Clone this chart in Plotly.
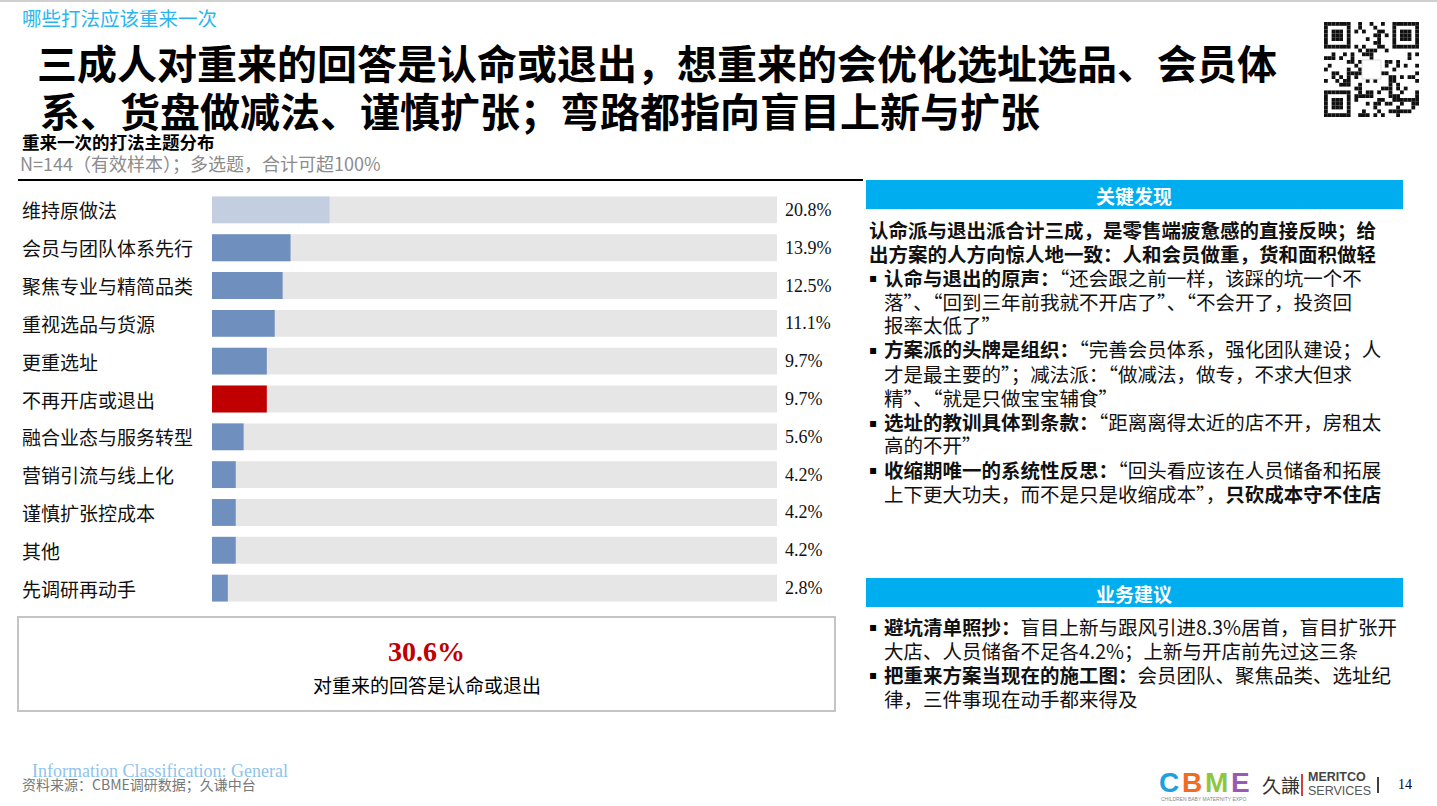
import plotly.graph_objects as go

W, H = 1437, 806
CJK = "Noto Sans CJK SC"
SERIF = "Liberation Serif, Noto Sans CJK SC"

# ---------------- data ----------------
kicker = "哪些打法应该重来一次"
title_lines = ["三成人对重来的回答是认命或退出，想重来的会优化选址选品、会员体",
               "系、货盘做减法、谨慎扩张；弯路都指向盲目上新与扩张"]
chart_title = "重来一次的打法主题分布"
chart_note = "N=144（有效样本）；多选题，合计可超100%"

categories = ["维持原做法", "会员与团队体系先行", "聚焦专业与精简品类", "重视选品与货源",
              "更重选址", "不再开店或退出", "融合业态与服务转型", "营销引流与线上化",
              "谨慎扩张控成本", "其他", "先调研再动手"]
values = [20.8, 13.9, 12.5, 11.1, 9.7, 9.7, 5.6, 4.2, 4.2, 4.2, 2.8]
track_value = 100
baseline_cat = "维持原做法"
highlight_cat = "不再开店或退出"

kpi_value = "30.6%"
kpi_label = "对重来的回答是认命或退出"

findings_header = "关键发现"
findings_lines = [
    ("", "<b>认命派与退出派合计三成，是零售端疲惫感的直接反映；给</b>"),
    ("", "<b>出方案的人方向惊人地一致：人和会员做重，货和面积做轻</b>"),
    ("▪", "<b>认命与退出的原声：</b>“还会跟之前一样，该踩的坑一个不"),
    (" ", "落”、“回到三年前我就不开店了”、“不会开了，投资回"),
    (" ", "报率太低了”"),
    ("▪", "<b>方案派的头牌是组织：</b>“完善会员体系，强化团队建设；人"),
    (" ", "才是最主要的”；减法派：“做减法，做专，不求大但求"),
    (" ", "精”、“就是只做宝宝辅食”"),
    ("▪", "<b>选址的教训具体到条款：</b>“距离离得太近的店不开，房租太"),
    (" ", "高的不开”"),
    ("▪", "<b>收缩期唯一的系统性反思：</b>“回头看应该在人员储备和拓展"),
    (" ", "上下更大功夫，而不是只是收缩成本”，<b>只砍成本守不住店</b>"),
]
advice_header = "业务建议"
advice_lines = [
    ("▪", "<b>避坑清单照抄：</b>盲目上新与跟风引进8.3%居首，盲目扩张开"),
    (" ", "大店、人员储备不足各4.2%；上新与开店前先过这三条"),
    ("▪", "<b>把重来方案当现在的施工图：</b>会员团队、聚焦品类、选址纪"),
    (" ", "律，三件事现在动手都来得及"),
]
footer_class = "Information Classification: General"
footer_source = "资料来源：CBME调研数据；久谦中台"
page_no = "14"

# ---------------- helpers ----------------
def X(px):
    return px / W

def Y(py):
    return 1 - py / H

BASE = "#6F8FBE"
LIGHT = "#C3CEE0"
RED = "#C00000"
TRACK = "#E6E6E6"
BLUE = "#00AEEF"

bar_colors = [LIGHT if c == baseline_cat else (RED if c == highlight_cat else BASE) for c in categories]

fig = go.Figure()
fig.add_trace(go.Bar(x=[track_value] * len(categories), y=categories, orientation="h",
                     marker=dict(color=TRACK, line=dict(width=0)), width=0.71,
                     hoverinfo="skip", showlegend=False))
fig.add_trace(go.Bar(x=values, y=categories, orientation="h",
                     marker=dict(color=bar_colors, line=dict(width=0)), width=0.71,
                     hovertemplate="%{y}: %{x}%<extra></extra>", showlegend=False))

ann = []
shapes = []

# bar labels and values
for c, v in zip(categories, values):
    ann.append(dict(x=X(20), y=c, xref="paper", yref="y", text=c, showarrow=False,
                    xanchor="left", yanchor="middle", font=dict(family=CJK, size=19, color="#111111")))
    ann.append(dict(x=X(783), y=c, xref="paper", yref="y", text=f"{v:.1f}%", showarrow=False,
                    xanchor="left", yanchor="middle", font=dict(family=SERIF, size=18, color="#111111")))

# top line
shapes.append(dict(type="line", xref="paper", yref="paper", x0=0, x1=1, y0=Y(1), y1=Y(1),
                   line=dict(color="#D0D0D0", width=2)))

# kicker & title
ann.append(dict(x=X(20), y=Y(17), xref="paper", yref="paper", text=kicker, showarrow=False,
                xanchor="left", yanchor="middle", font=dict(family=CJK, size=19.5, color="#29B6EE")))
for i, line in enumerate(title_lines):
    ann.append(dict(x=X(35 if i == 0 else 38), y=Y(62 + 48 * i), xref="paper", yref="paper",
                    text=f"<b>{line}</b>", showarrow=False, xanchor="left", yanchor="middle",
                    font=dict(family=CJK, size=40, color="#000000")))

# chart title & note
ann.append(dict(x=X(20), y=Y(141), xref="paper", yref="paper", text=f"<b>{chart_title}</b>",
                showarrow=False, xanchor="left", yanchor="middle",
                font=dict(family=CJK, size=17.5, color="#000000")))
ann.append(dict(x=X(18), y=Y(163), xref="paper", yref="paper", text=chart_note,
                showarrow=False, xanchor="left", yanchor="middle",
                font=dict(family=CJK, size=18, color="#8C8C8C")))
shapes.append(dict(type="line", xref="paper", yref="paper", x0=X(18), x1=X(863), y0=Y(180), y1=Y(180),
                   line=dict(color="#000000", width=2)))

# KPI box
shapes.append(dict(type="rect", xref="paper", yref="paper", x0=X(18), x1=X(835), y0=Y(617), y1=Y(711),
                   line=dict(color="#C4C4C4", width=2), fillcolor="rgba(0,0,0,0)"))
ann.append(dict(x=X(427), y=Y(651), xref="paper", yref="paper", text=f"<b>{kpi_value}</b>",
                showarrow=False, xanchor="center", yanchor="middle",
                font=dict(family=SERIF, size=28, color=RED)))
ann.append(dict(x=X(427), y=Y(684), xref="paper", yref="paper", text=kpi_label,
                showarrow=False, xanchor="center", yanchor="middle",
                font=dict(family=CJK, size=19, color="#000000")))

# right panels
def panel(header, y_top, lines, step_list):
    shapes.append(dict(type="rect", xref="paper", yref="paper", x0=X(866), x1=X(1403),
                       y0=Y(y_top), y1=Y(y_top + 29), line=dict(width=0), fillcolor=BLUE))
    ann.append(dict(x=X(1134), y=Y(y_top + 15), xref="paper", yref="paper", text=f"<b>{header}</b>",
                    showarrow=False, xanchor="center", yanchor="middle",
                    font=dict(family=CJK, size=19, color="#FFFFFF")))
    for (bullet, text), yy in zip(lines, step_list):
        xs = 867 if bullet == "" else 882
        if bullet == "▪":
            ann.append(dict(x=X(867), y=Y(yy + 1), xref="paper", yref="paper", text="▪",
                            showarrow=False, xanchor="left", yanchor="middle",
                            font=dict(family="DejaVu Sans", size=12, color="#000000")))
        ann.append(dict(x=X(xs), y=Y(yy), xref="paper", yref="paper", text=text,
                        showarrow=False, xanchor="left", yanchor="middle",
                        font=dict(family=CJK, size=19.5, color="#111111")))

panel(findings_header, 180, findings_lines,
      [230, 253, 277, 301, 324, 349, 373, 397, 422, 444, 469, 493])
panel(advice_header, 578, advice_lines, [626, 650, 674, 698])

# footer
ann.append(dict(x=X(30), y=Y(771), xref="paper", yref="paper", text=footer_class, showarrow=False,
                xanchor="left", yanchor="middle", font=dict(family=SERIF, size=18, color="#8FC3EC")))
ann.append(dict(x=X(20), y=Y(784), xref="paper", yref="paper", text=footer_source, showarrow=False,
                xanchor="left", yanchor="middle", font=dict(family=CJK, size=14, color="#777777")))

# CBME logo
for ch, col, xx in [("C", "#1E9FE0", 1169), ("B", "#F26B21", 1192), ("M", "#8DC63F", 1216), ("E", "#9B59B6", 1240)]:
    ann.append(dict(x=X(xx), y=Y(782), xref="paper", yref="paper", text=f"<b>{ch}</b>", showarrow=False,
                    xanchor="center", yanchor="middle", font=dict(family="Liberation Sans", size=28, color=col)))
ann.append(dict(x=X(1203), y=Y(799), xref="paper", yref="paper", text="CHILDREN BABY MATERNITY EXPO",
                showarrow=False, xanchor="center", yanchor="middle",
                font=dict(family="Liberation Sans", size=5, color="#888888")))
ann.append(dict(x=X(1260), y=Y(784), xref="paper", yref="paper", text="久謙", showarrow=False,
                xanchor="left", yanchor="middle", font=dict(family=CJK, size=19, color="#333333")))
shapes.append(dict(type="line", xref="paper", yref="paper", x0=X(1302), x1=X(1302), y0=Y(774), y1=Y(796),
                   line=dict(color="#C00000", width=1.5)))
ann.append(dict(x=X(1306), y=Y(777), xref="paper", yref="paper", text="<b>MERITCO</b>", showarrow=False,
                xanchor="left", yanchor="middle", font=dict(family="Liberation Sans", size=12.5, color="#444444")))
ann.append(dict(x=X(1306), y=Y(791), xref="paper", yref="paper", text="SERVICES", showarrow=False,
                xanchor="left", yanchor="middle", font=dict(family="Liberation Sans", size=12.5, color="#555555")))
shapes.append(dict(type="line", xref="paper", yref="paper", x0=X(1378), x1=X(1378), y0=Y(777), y1=Y(793),
                   line=dict(color="#000000", width=1.5)))
ann.append(dict(x=X(1396), y=Y(784), xref="paper", yref="paper", text=page_no, showarrow=False,
                xanchor="left", yanchor="middle", font=dict(family=SERIF, size=14, color="#000033")))

# QR code (decorative)
qx0, qy0, qs = 1324, 22, 95
n = 25
m = qs / n
def mod(r, c):
    shapes.append(dict(type="rect", xref="paper", yref="paper", x0=X(qx0 + c * m), x1=X(qx0 + (c + 1) * m),
                       y0=Y(qy0 + r * m), y1=Y(qy0 + (r + 1) * m), line=dict(width=0), fillcolor="#111111"))
def finder(r0, c0):
    for r in range(7):
        for c in range(7):
            if r in (0, 6) or c in (0, 6) or (2 <= r <= 4 and 2 <= c <= 4):
                mod(r0 + r, c0 + c)
finder(0, 0); finder(0, n - 7); finder(n - 7, 0)
for r in range(n):
    for c in range(n):
        in_f = (r < 8 and c < 8) or (r < 8 and c >= n - 8) or (r >= n - 8 and c < 8)
        in_logo = 10 <= r <= 14 and 10 <= c <= 14
        if in_f or in_logo:
            continue
        if ((r * 7 + c * 13) ^ (r * c)) % 3 == 0:
            mod(r, c)
shapes.append(dict(type="rect", xref="paper", yref="paper", x0=X(qx0 + 10 * m), x1=X(qx0 + 15 * m),
                   y0=Y(qy0 + 10 * m), y1=Y(qy0 + 15 * m), line=dict(color="#DDDDDD", width=1), fillcolor="#FFFFFF"))

fig.update_layout(
    width=W, height=H, margin=dict(l=0, r=0, t=0, b=0),
    paper_bgcolor="#FFFFFF", plot_bgcolor="#FFFFFF",
    barmode="overlay", bargap=0.29,
    xaxis=dict(domain=[X(212), X(777)], range=[0, 100], visible=False, fixedrange=True),
    yaxis=dict(domain=[Y(607), Y(191)], autorange="reversed", visible=False, fixedrange=True,
               categoryorder="array", categoryarray=categories),
    annotations=ann, shapes=shapes, showlegend=False,
)

fig.write_html("out.html", config={"displayModeBar": False},
               post_script="document.body.style.margin='0px';document.body.style.overflow='hidden';")
